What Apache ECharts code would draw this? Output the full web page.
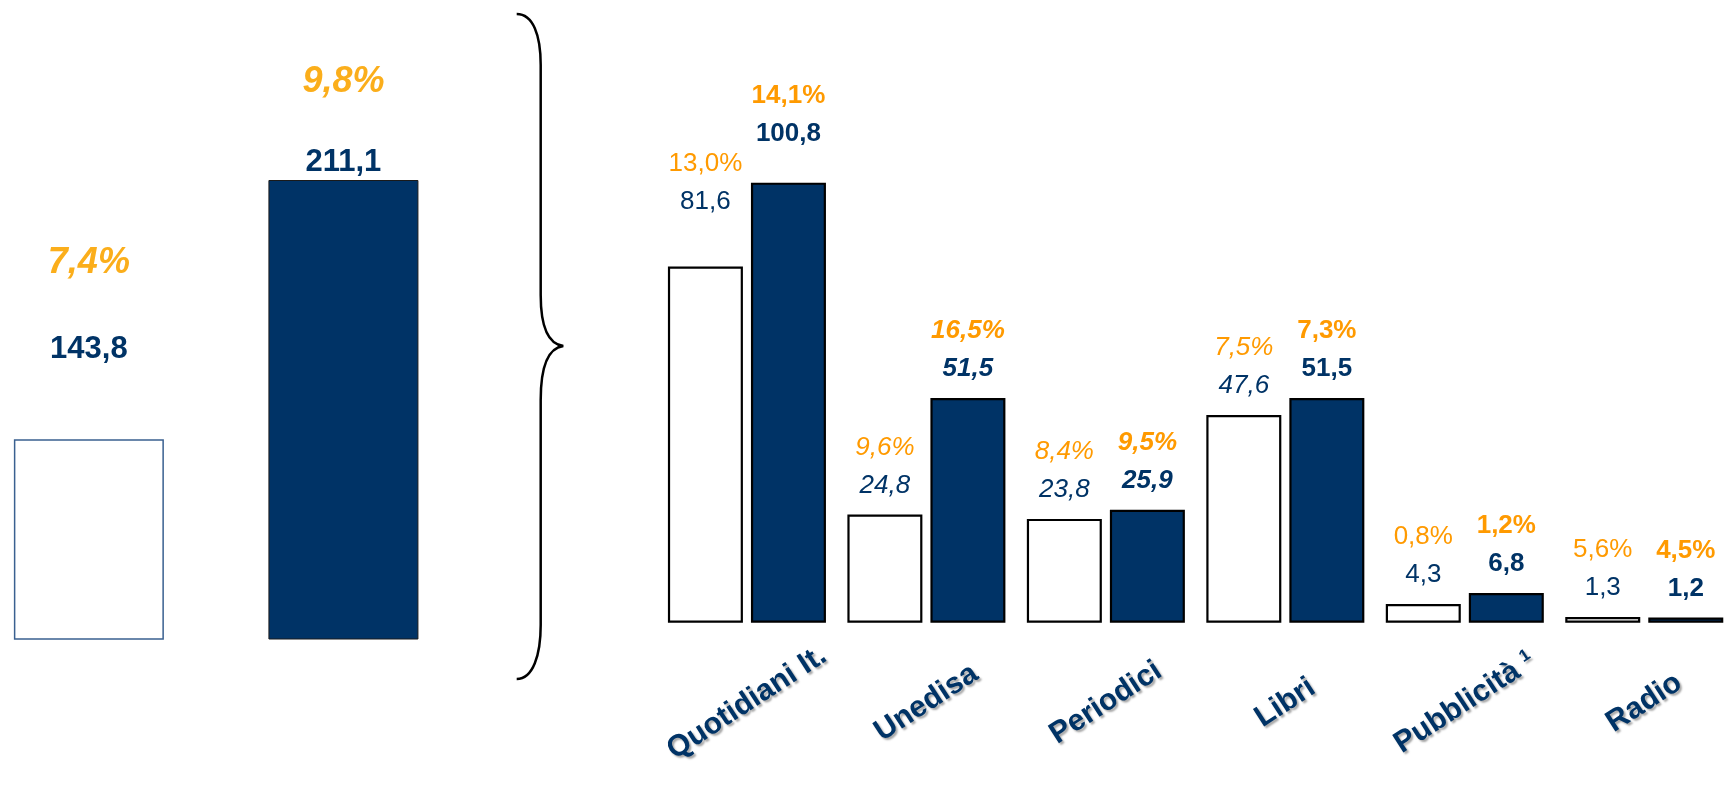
<!DOCTYPE html>
<html>
<head>
<meta charset="utf-8">
<script src="https://cdn.jsdelivr.net/npm/echarts@6/dist/echarts.min.js"></script>
<style>
  html, body { margin: 0; padding: 0; background: #fff; }
  #chart { width: 1734px; height: 785px; }
</style>
</head>
<body>
<div id="chart"></div>
<script>
// ---- Data ----
const totalCategories = ['Totale prec.', 'Totale'];
const totalValues = [143.8, 211.1];
const totalPct = [7.4, 9.8];

const categories = ['Quotidiani It.', 'Unedisa', 'Periodici', 'Libri', 'Pubblicità', 'Radio'];
const footnotes = ['', '', '', '', '1', ''];
const prevValues = [81.6, 24.8, 23.8, 47.6, 4.3, 1.3];
const currValues = [100.8, 51.5, 25.9, 51.5, 6.8, 1.2];
const prevPct = [13.0, 9.6, 8.4, 7.5, 0.8, 5.6];
const currPct = [14.1, 16.5, 9.5, 7.3, 1.2, 4.5];

// ---- Style config ----
const NAVY = '#003366';
const ORANGE = '#FF9A00';
const ORANGE_L = '#FBAE1B';
const FONT = '"Liberation Sans", Arial, sans-serif';
const prevItalic = [false, true, true, true, false, false];
const currItalic = [false, true, true, false, false, false];
const prevLift = {0: 46};
const currLift = {0: 30};

const fmt = v => v.toFixed(1).replace('.', ',');

function richSet(bold) {
  const w = bold ? 'bold' : 'normal';
  return {
    p:  {fontSize: 26, color: ORANGE, lineHeight: 38, fontFamily: FONT, fontWeight: w},
    v:  {fontSize: 26, color: NAVY, lineHeight: 38, fontFamily: FONT, fontWeight: w},
    pi: {fontSize: 26, color: ORANGE, lineHeight: 38, fontFamily: FONT, fontWeight: w, fontStyle: 'italic'},
    vi: {fontSize: 26, color: NAVY, lineHeight: 38, fontFamily: FONT, fontWeight: w, fontStyle: 'italic'}
  };
}

function buildData(values, lift) {
  return values.map((v, i) => lift[i] !== undefined ? {value: v, label: {distance: lift[i]}} : v);
}

const braceStyle = {stroke: '#000000', lineWidth: 2.5, fill: null};
function bez(x1, y1, cx1, cy1, cx2, cy2, x2, y2) {
  return {type: 'bezierCurve', shape: {x1: x1, y1: y1, cpx1: cx1, cpy1: cy1, cpx2: cx2, cpy2: cy2, x2: x2, y2: y2}, style: braceStyle};
}
function seg(x1, y1, x2, y2) {
  return {type: 'line', shape: {x1: x1, y1: y1, x2: x2, y2: y2}, style: braceStyle};
}

const chart = echarts.init(document.getElementById('chart'), null, {renderer: 'canvas'});

const option = {
  animation: false,
  backgroundColor: '#ffffff',
  grid: [
    {left: 0, width: 432.3, top: 30.1, bottom: 146},
    {left: 657.2, width: 1084.8, top: 142.5, bottom: 162.2}
  ],
  xAxis: [
    {gridIndex: 0, type: 'category', data: ['T'], show: false},
    {
      gridIndex: 1, type: 'category', data: categories,
      axisLine: {show: false}, axisTick: {show: false},
      axisLabel: {
        interval: 0, rotate: 33, margin: 80, align: 'center', verticalAlign: 'middle',
        fontSize: 30, fontWeight: 'bold', color: NAVY, fontFamily: FONT,
        textShadowColor: 'rgba(0,0,0,0.35)', textShadowOffsetX: 2, textShadowOffsetY: 2, textShadowBlur: 2,
        formatter: (val, idx) => footnotes[idx] ? val + ' {sup|' + footnotes[idx] + '}' : val,
        rich: {
          sup: {fontSize: 17, fontWeight: 'bold', color: NAVY, fontFamily: FONT, verticalAlign: 'top',
                textShadowColor: 'rgba(0,0,0,0.35)', textShadowOffsetX: 2, textShadowOffsetY: 2, textShadowBlur: 2}
        }
      }
    }
  ],
  yAxis: [
    {gridIndex: 0, type: 'value', min: 92, max: 250, show: false},
    {gridIndex: 1, type: 'value', min: 0, max: 110, show: false}
  ],
  series: [
    {
      type: 'bar', xAxisIndex: 0, yAxisIndex: 0, barWidth: 150, barGap: '69.7%',
      data: [totalValues[0]],
      itemStyle: {color: '#ffffff', borderColor: '#3A6090', borderWidth: 1.5},
      label: {
        show: true, position: 'top', distance: 70,
        formatter: () => '{p|' + fmt(totalPct[0]) + '%}\n{v|' + fmt(totalValues[0]) + '}',
        rich: {
          p: {fontSize: 36, fontWeight: 'bold', fontStyle: 'italic', color: ORANGE_L, lineHeight: 132.8, fontFamily: FONT},
          v: {fontSize: 31, fontWeight: 'bold', color: NAVY, lineHeight: 40, fontFamily: FONT}
        }
      }
    },
    {
      type: 'bar', xAxisIndex: 0, yAxisIndex: 0, barWidth: 150, barGap: '69.7%',
      data: [totalValues[1]],
      itemStyle: {color: NAVY, borderColor: '#1a1a1a', borderWidth: 1},
      label: {
        show: true, position: 'top', distance: -2,
        formatter: () => '{p|' + fmt(totalPct[1]) + '%}\n{v|' + fmt(totalValues[1]) + '}',
        rich: {
          p: {fontSize: 36, fontWeight: 'bold', fontStyle: 'italic', color: ORANGE_L, lineHeight: 120, fontFamily: FONT},
          v: {fontSize: 31, fontWeight: 'bold', color: NAVY, lineHeight: 40, fontFamily: FONT}
        }
      }
    },
    {
      type: 'bar', xAxisIndex: 1, yAxisIndex: 1, barWidth: 75, barGap: '10.7%',
      data: buildData(prevValues, prevLift),
      itemStyle: {color: '#ffffff', borderColor: '#000000', borderWidth: 2.2},
      label: {
        show: true, position: 'top', distance: 10,
        formatter: p => {
          const it = prevItalic[p.dataIndex] ? 'i' : '';
          return '{p' + it + '|' + fmt(prevPct[p.dataIndex]) + '%}\n{v' + it + '|' + fmt(prevValues[p.dataIndex]) + '}';
        },
        rich: richSet(false)
      }
    },
    {
      type: 'bar', xAxisIndex: 1, yAxisIndex: 1, barWidth: 75, barGap: '10.7%',
      data: buildData(currValues, currLift),
      itemStyle: {color: NAVY, borderColor: '#000000', borderWidth: 2.2},
      label: {
        show: true, position: 'top', distance: 10,
        formatter: p => {
          const it = currItalic[p.dataIndex] ? 'i' : '';
          return '{p' + it + '|' + fmt(currPct[p.dataIndex]) + '%}\n{v' + it + '|' + fmt(currValues[p.dataIndex]) + '}';
        },
        rich: richSet(true)
      }
    }
  ],
  graphic: [
    bez(516.7, 14, 533, 14, 540.7, 35, 540.7, 65),
    seg(540.7, 65, 540.7, 295),
    bez(540.7, 295, 540.7, 325, 548, 344, 563.3, 346),
    bez(563.3, 346, 548, 348, 540.7, 367, 540.7, 400),
    seg(540.7, 400, 540.7, 625),
    bez(540.7, 625, 540.7, 655, 533, 679, 516.7, 679)
  ]
};

chart.setOption(option);
</script>
</body>
</html>
